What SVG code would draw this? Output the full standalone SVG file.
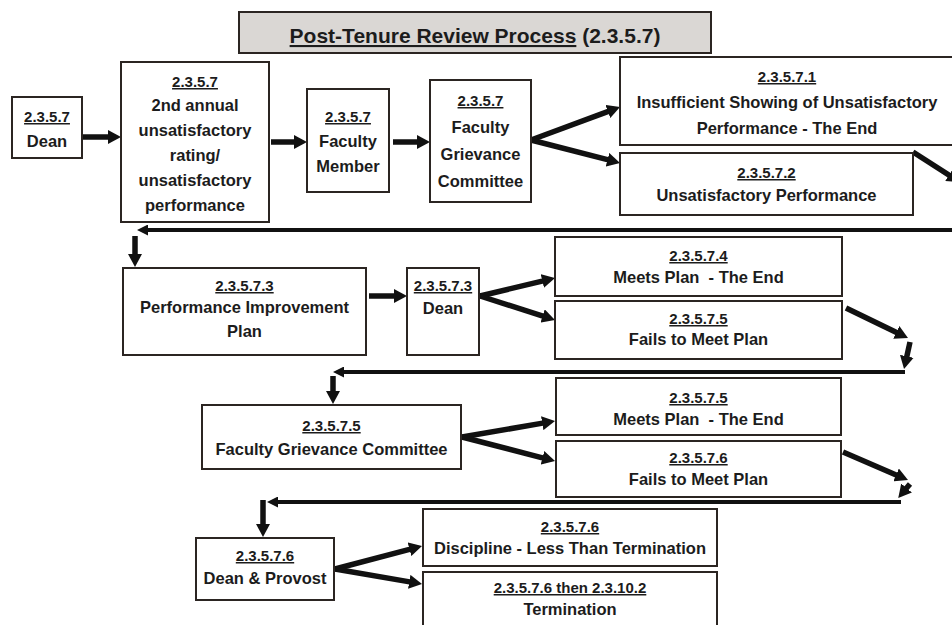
<svg xmlns="http://www.w3.org/2000/svg" width="952" height="625" viewBox="0 0 952 625">
<style>
  .box { fill: #ffffff; stroke: #2b2522; stroke-width: 2; }
  .tbox { fill: #dad7d4; stroke: #2b2522; stroke-width: 2; }
  text { font-family: "Liberation Sans", Arial, sans-serif; font-weight: bold; fill: #1c1c1c; text-anchor: middle; }
  .num { font-size: 15px; text-decoration: underline; }
  .lbl { font-size: 16.5px; }
  .title { font-size: 21px; }
  .ul { text-decoration: underline; }
  .arr { stroke: #111; stroke-width: 5.5; fill: none; marker-end: url(#big); }
  .conn { stroke: #111; stroke-width: 4; fill: none; }
  .connh { stroke: #111; stroke-width: 4; fill: none; marker-end: url(#small); }
</style>
<defs>
  <marker id="big" viewBox="0 0 13 14" markerWidth="13" markerHeight="14" refX="2" refY="7" orient="auto" markerUnits="userSpaceOnUse">
    <path d="M0,0 L13,7 L0,14 z" fill="#111"/>
  </marker>
  <marker id="small" viewBox="0 0 11 11" markerWidth="11" markerHeight="11" refX="2" refY="5.5" orient="auto" markerUnits="userSpaceOnUse">
    <path d="M0,0 L11,5.5 L0,11 z" fill="#111"/>
  </marker>
</defs>
<rect width="952" height="625" fill="#ffffff"/>

<g id="title">
  <rect class="tbox" x="239" y="12" width="472" height="41"/>
  <text class="title" x="475" y="43"><tspan class="ul">Post-Tenure Review Process</tspan> (2.3.5.7)</text>
</g>

<g id="connectors">
  <line class="arr" x1="83" y1="137" x2="110" y2="137"/>
  <line class="arr" x1="271" y1="142" x2="296" y2="142"/>
  <line class="arr" x1="393" y1="142" x2="419" y2="142"/>
  <line class="arr" x1="531" y1="140" x2="609.7" y2="110.8"/>
  <line class="arr" x1="531" y1="140" x2="609.4" y2="160.2"/>
  <line class="arr" x1="913" y1="152" x2="950.7" y2="176.1"/>
  <line class="connh" x1="960" y1="230" x2="146" y2="230"/>
  <line class="arr" x1="135" y1="236" x2="135" y2="256"/>

  <line class="arr" x1="369" y1="296" x2="396" y2="296"/>
  <line class="arr" x1="480" y1="296" x2="544.3" y2="280.6"/>
  <line class="arr" x1="480" y1="296" x2="544.5" y2="316.6"/>
  <line class="arr" x1="846" y1="308" x2="898.1" y2="333.2"/>
  <line class="arr" x1="910" y1="342" x2="906.4" y2="358.3"/>
  <line class="connh" x1="905" y1="372" x2="342" y2="372"/>
  <line class="arr" x1="333" y1="376" x2="333" y2="393"/>

  <line class="arr" x1="462" y1="437" x2="544.2" y2="422.9"/>
  <line class="arr" x1="462" y1="437" x2="544.4" y2="458.3"/>
  <line class="arr" x1="843" y1="452" x2="897.9" y2="475.7"/>
  <line class="arr" x1="910" y1="484" x2="905.3" y2="489.6"/>
  <line class="connh" x1="901" y1="502" x2="276" y2="502"/>
  <path class="arr" d="M263,500 L263,526"/>

  <line class="arr" x1="335" y1="569" x2="411.4" y2="548.8"/>
  <line class="arr" x1="335" y1="569" x2="411.2" y2="582.1"/>
</g>

<g id="n1">
  <rect class="box" x="12" y="97" width="70" height="61"/>
  <text class="num" x="47" y="122">2.3.5.7</text>
  <text class="lbl" x="47" y="147">Dean</text>
</g>
<g id="n2">
  <rect class="box" x="121" y="62" width="148" height="160"/>
  <text class="num" x="195" y="87">2.3.5.7</text>
  <text class="lbl" x="195" y="111">2nd annual</text>
  <text class="lbl" x="195" y="136">unsatisfactory</text>
  <text class="lbl" x="195" y="161">rating/</text>
  <text class="lbl" x="195" y="186">unsatisfactory</text>
  <text class="lbl" x="195" y="211">performance</text>
</g>
<g id="n3">
  <rect class="box" x="307" y="89" width="82" height="103"/>
  <text class="num" x="348" y="122">2.3.5.7</text>
  <text class="lbl" x="348" y="147">Faculty</text>
  <text class="lbl" x="348" y="172">Member</text>
</g>
<g id="n4">
  <rect class="box" x="430" y="80" width="101" height="122"/>
  <text class="num" x="480.5" y="106">2.3.5.7</text>
  <text class="lbl" x="480.5" y="133">Faculty</text>
  <text class="lbl" x="480.5" y="160">Grievance</text>
  <text class="lbl" x="480.5" y="187">Committee</text>
</g>
<g id="n5">
  <rect class="box" x="620" y="57" width="345" height="88"/>
  <text class="num" x="787" y="82">2.3.5.7.1</text>
  <text class="lbl" x="787" y="108">Insufficient Showing of Unsatisfactory</text>
  <text class="lbl" x="787" y="134">Performance - The End</text>
</g>
<g id="n6">
  <rect class="box" x="620" y="153" width="293" height="62"/>
  <text class="num" x="766.5" y="178">2.3.5.7.2</text>
  <text class="lbl" x="766.5" y="201">Unsatisfactory Performance</text>
</g>
<g id="n7">
  <rect class="box" x="123" y="268" width="243" height="87"/>
  <text class="num" x="244.5" y="291">2.3.5.7.3</text>
  <text class="lbl" x="244.5" y="313">Performance Improvement</text>
  <text class="lbl" x="244.5" y="337">Plan</text>
</g>
<g id="n8">
  <rect class="box" x="407" y="268" width="72" height="87"/>
  <text class="num" x="443" y="291">2.3.5.7.3</text>
  <text class="lbl" x="443" y="314">Dean</text>
</g>
<g id="n9">
  <rect class="box" x="555" y="237" width="287" height="59"/>
  <text class="num" x="698.5" y="261">2.3.5.7.4</text>
  <text class="lbl" x="698.5" y="283" xml:space="preserve">Meets Plan  - The End</text>
</g>
<g id="n10">
  <rect class="box" x="555" y="301" width="287" height="58"/>
  <text class="num" x="698.5" y="324">2.3.5.7.5</text>
  <text class="lbl" x="698.5" y="345">Fails to Meet Plan</text>
</g>
<g id="n11">
  <rect class="box" x="202" y="405" width="259" height="64"/>
  <text class="num" x="331.5" y="431">2.3.5.7.5</text>
  <text class="lbl" x="331.5" y="455">Faculty Grievance Committee</text>
</g>
<g id="n12">
  <rect class="box" x="556" y="378" width="285" height="57"/>
  <text class="num" x="698.5" y="403">2.3.5.7.5</text>
  <text class="lbl" x="698.5" y="425" xml:space="preserve">Meets Plan  - The End</text>
</g>
<g id="n13">
  <rect class="box" x="556" y="441" width="285" height="56"/>
  <text class="num" x="698.5" y="463">2.3.5.7.6</text>
  <text class="lbl" x="698.5" y="485">Fails to Meet Plan</text>
</g>
<g id="n14">
  <rect class="box" x="196" y="538" width="138" height="62"/>
  <text class="num" x="265" y="561">2.3.5.7.6</text>
  <text class="lbl" x="265" y="584">Dean &amp; Provost</text>
</g>
<g id="n15">
  <rect class="box" x="423" y="509" width="294" height="57"/>
  <text class="num" x="570" y="532">2.3.5.7.6</text>
  <text class="lbl" x="570" y="554">Discipline - Less Than Termination</text>
</g>
<g id="n16">
  <rect class="box" x="423" y="572" width="294" height="62"/>
  <text class="num" x="570" y="593">2.3.5.7.6 then 2.3.10.2</text>
  <text class="lbl" x="570" y="615">Termination</text>
</g>
</svg>
